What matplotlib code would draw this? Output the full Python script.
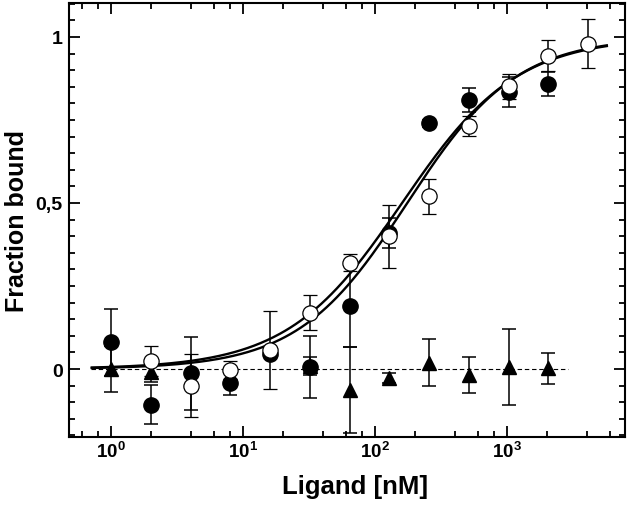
import numpy as np
import matplotlib
matplotlib.use('Agg')
import matplotlib.pyplot as plt
from matplotlib.ticker import FixedLocator, FixedFormatter, LogLocator, MultipleLocator, NullFormatter

plt.rcParams['font.family'] = 'Liberation Sans'
plt.rcParams['font.weight'] = 'bold'
plt.rcParams['mathtext.fontset'] = 'custom'
plt.rcParams['mathtext.rm'] = 'Liberation Sans:bold'
plt.rcParams['mathtext.bf'] = 'Liberation Sans:bold'

# ligand concentrations (nM), two-fold dilution series
conc = [1, 2, 4, 8, 16, 32, 64, 128, 256, 512, 1024, 2048, 4096]

# open circles
open_y = [None, 0.025, -0.05, -0.003, 0.057, 0.17, 0.32, 0.40, 0.52, 0.732, 0.851, 0.943, 0.98]
open_err = [None, 0.045, 0.095, 0.027, 0.118, 0.053, 0.025, 0.095, 0.053, 0.03, 0.037, 0.047, 0.074]

# filled circles
filled_y = [0.08, -0.107, -0.013, -0.041, 0.045, 0.005, 0.19, 0.41, 0.74, 0.81, 0.835, 0.858, None]
filled_err = [0.10, 0.06, 0.11, 0.038, 0.01, 0.093, 0.125, 0.045, 0.01, 0.037, 0.045, 0.036, None]

# filled triangles (control)
tri_y = [0.0, -0.01, None, None, None, 0.01, -0.063, -0.028, 0.019, -0.018, 0.007, 0.002, None]
tri_err = [0.07, 0.03, None, None, None, 0.027, 0.13, 0.015, 0.07, 0.055, 0.115, 0.046, None]

# hyperbolic / Hill fits for the two binding series
fit_kd = [160.0, 175.0]
fit_n = [1.0, 1.05]
fit_range = (0.7, 5800)
baseline_range = (0.7, 2900)

x_ticks = [1, 10, 100, 1000]
x_tick_labels = [r'$\mathbf{10^{0}}$', r'$\mathbf{10^{1}}$', r'$\mathbf{10^{2}}$', r'$\mathbf{10^{3}}$']
y_ticks = [0, 0.5, 1]
y_tick_labels = ['0', '0,5', '1']


def pick(xs, ys, es):
    keep = [i for i, v in enumerate(ys) if v is not None]
    return ([xs[i] for i in keep], [ys[i] for i in keep], [es[i] for i in keep])


fig = plt.figure(figsize=(6.3, 5.1), dpi=100)
ax = fig.add_axes([0.1095, 0.141, 0.8825, 0.851])

ax.set_xscale('log')

# dashed zero baseline
ax.hlines(0, baseline_range[0], baseline_range[1], colors='black',
          linestyles=(0, (4, 2.5)), linewidth=0.8, zorder=1)

# fitted curves (drawn as two close black lines)
xf = np.logspace(np.log10(fit_range[0]), np.log10(fit_range[1]), 400)
for kd, n in zip(fit_kd, fit_n):
    yf = 1.0 / (1.0 + (kd / xf) ** n)
    ax.plot(xf, yf, color='black', linewidth=1.7, zorder=2, solid_capstyle='butt')

eb = dict(ecolor='black', elinewidth=1.1, capsize=5, capthick=1.1, linestyle='none')

x, y, e = pick(conc, tri_y, tri_err)
ax.errorbar(x, y, yerr=e, fmt='^', color='black', markersize=10, zorder=3, **eb)

x, y, e = pick(conc, filled_y, filled_err)
ax.errorbar(x, y, yerr=e, fmt='o', color='black', markersize=11, zorder=4, **eb)

x, y, e = pick(conc, open_y, open_err)
ax.errorbar(x, y, yerr=e, fmt='o', mfc='white', mec='black', mew=0.9,
            markersize=11, zorder=5, **eb)

ax.set_xlim(0.48, 7800)
ax.set_ylim(-0.205, 1.102)

ax.xaxis.set_major_locator(FixedLocator(x_ticks))
ax.xaxis.set_major_formatter(FixedFormatter(x_tick_labels))
ax.xaxis.set_minor_locator(LogLocator(base=10, subs=(2, 4, 6, 8), numticks=20))
ax.xaxis.set_minor_formatter(NullFormatter())

ax.yaxis.set_major_locator(FixedLocator(y_ticks))
ax.yaxis.set_major_formatter(FixedFormatter(y_tick_labels))
ax.yaxis.set_minor_locator(MultipleLocator(0.05))

ax.tick_params(which='both', direction='in', top=True, right=True, width=1.3)
ax.tick_params(which='major', length=8)
ax.tick_params(which='minor', length=4.5)
ax.tick_params(axis='x', which='major', labelsize=13.5, pad=3)
ax.tick_params(axis='y', which='major', labelsize=14, pad=4.5)
for lab in ax.get_yticklabels():
    lab.set_fontweight('bold')

for s in ax.spines.values():
    s.set_linewidth(1.5)

ax.set_xlabel('Ligand [nM]', fontsize=18.5, fontweight='bold', labelpad=9)
ax.xaxis.label.set_x(0.514)
ax.set_ylabel('Fraction bound', fontsize=18, fontweight='bold', labelpad=5)

fig.savefig('out.png', dpi=100)
